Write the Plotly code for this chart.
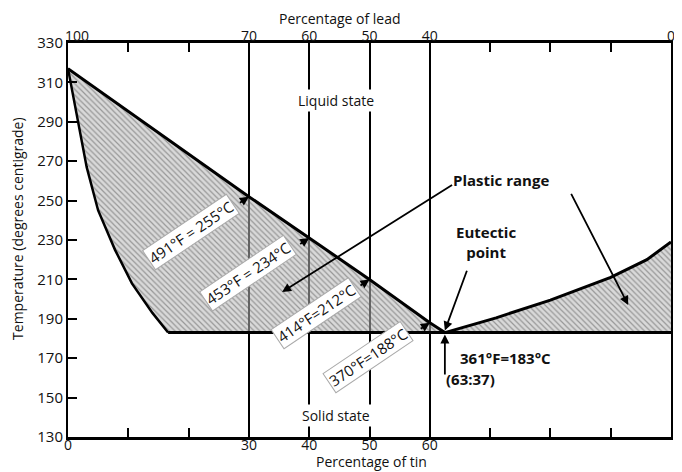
import plotly.graph_objects as go

# values (tin %, temperature in deg C)
liq_left_tin = [0, 30, 40, 50, 60, 62.5]
liq_left_temp = [317, 252, 231, 210, 188, 183]

liq_right_tin = [62.5, 71, 80, 90, 96, 100]
liq_right_temp = [183, 190.5, 199.5, 211, 220, 229]

sol_tin = [0, 1.7, 3.1, 5.0, 7.8, 10.6, 14.0, 16.6]
sol_temp = [317, 289, 267, 245, 225, 208, 193, 183]

eutectic_tin = 62.5
eutectic_temp = 183

tin_ticks = [0, 30, 40, 50, 60, 100]
tin_labels = ['0', '30', '40', '50', '60', '100\u00a0\u00a0\u00a0']
lead_labels = ['\u00a0\u00a0\u00a0\u00a0\u00a0100', '70', '60', '50', '40', '0']
minor_ticks = [10, 20, 70, 80, 90]
temp_ticks = list(range(130, 331, 20))

FONT = 'Open Sans'
hatch = dict(shape='\\', fgcolor='#555', size=4, solidity=0.3, fillmode='overlay')
fill_col = 'rgba(185,185,185,0.55)'

fig = go.Figure()

# left plastic range: liquidus down to eutectic, back along 183 line, up the solidus
left_x = liq_left_tin + [sol_tin[-1]] + sol_tin[::-1]
left_y = liq_left_temp + [eutectic_temp] + sol_temp[::-1]
fig.add_trace(go.Scatter(x=left_x, y=left_y, fill='toself', fillcolor=fill_col,
                         fillpattern=hatch, mode='none', hoverinfo='skip'))

# right plastic range
right_x = liq_right_tin + [100]
right_y = liq_right_temp + [eutectic_temp]
fig.add_trace(go.Scatter(x=right_x, y=right_y, fill='toself', fillcolor=fill_col,
                         fillpattern=hatch, mode='none', hoverinfo='skip'))

line = dict(color='black', width=3)
fig.add_trace(go.Scatter(x=liq_left_tin, y=liq_left_temp, mode='lines', line=line))
fig.add_trace(go.Scatter(x=liq_right_tin, y=liq_right_temp, mode='lines', line=line, xaxis='x2'))
fig.add_trace(go.Scatter(x=sol_tin, y=sol_temp, mode='lines', line=dict(color='black', width=2.5)))
fig.add_trace(go.Scatter(x=[sol_tin[-1], 100], y=[eutectic_temp, eutectic_temp], mode='lines', line=line))

tf = dict(family=FONT, size=14, color='#111')
axis_common = dict(range=[0, 100], tickvals=tin_ticks, ticks='', showgrid=True,
                   gridcolor='black', gridwidth=1.8, zeroline=False, automargin=False,
                   showline=True, linecolor='black', linewidth=3, tickfont=tf,
                   ticklabelstandoff=-7,
                   minor=dict(tickmode='array', tickvals=minor_ticks, ticks='inside',
                              ticklen=9, tickwidth=2, tickcolor='black', showgrid=False))

# page body adds an 8px offset, so the figure is 8px smaller than the window
fig.update_layout(
    width=674, height=464,
    margin=dict(l=60, r=11, t=35, b=35),
    paper_bgcolor='white', plot_bgcolor='white',
    showlegend=False,
    font=dict(family=FONT, color='#111'),
    xaxis=dict(**axis_common, side='bottom', ticktext=tin_labels),
    xaxis2=dict(**axis_common, side='top', overlaying='x', ticktext=lead_labels),
    yaxis=dict(range=[130, 330], tickvals=temp_ticks, ticks='inside', ticklen=9,
               tickwidth=2, tickcolor='black', showgrid=False, zeroline=False, automargin=False,
               showline=True, mirror=True, linecolor='black', linewidth=2,
               tickfont=dict(family=FONT, size=15, color='#111')),
)

anns = []
# axis titles
anns.append(dict(text='Percentage of lead', xref='paper', yref='paper', x=0.451, y=1.063,
                 xanchor='center', yanchor='middle', showarrow=False, font=tf))
anns.append(dict(text='Percentage of tin', xref='paper', yref='paper', x=0.504, y=-0.061,
                 xanchor='center', yanchor='middle', showarrow=False, font=tf))
anns.append(dict(text='Temperature (degrees centigrade)', xref='paper', yref='paper',
                 x=-0.085, y=0.53, xanchor='center', yanchor='middle', textangle=-90,
                 showarrow=False, font=tf))

# region labels
anns.append(dict(text='Liquid state', x=44.4, y=301, showarrow=False, font=tf, bgcolor='white'))
anns.append(dict(text='Solid state', x=44.4, y=141, showarrow=False, font=tf, bgcolor='white'))
bold = dict(family=FONT, size=15, color='#111', weight=700)
anns.append(dict(text='Plastic range', x=71.8, y=260.5, showarrow=False, font=bold))
anns.append(dict(text='Eutectic<br>point', x=69.3, y=229, showarrow=False, font=bold))
anns.append(dict(text='361°F=183°C', x=64.6, y=170, xanchor='left', showarrow=False, font=bold))
anns.append(dict(text='(63:37)', x=62.3, y=159.5, xanchor='left', showarrow=False, font=bold))

arrow = dict(showarrow=True, arrowhead=2, arrowsize=1, arrowwidth=1.8,
             arrowcolor='black', standoff=0, text=' ')
anns.append(dict(x=35.5, y=203.6, ax=173, ay=-109, **arrow))
anns.append(dict(x=92.9, y=197, ax=-60, ay=-117, **arrow))
anns.append(dict(x=eutectic_tin, y=eutectic_temp + 1, ax=25, ay=-68, **arrow))
anns.append(dict(x=eutectic_tin, y=eutectic_temp - 1, ax=0, ay=50, **arrow))

# rotated temperature labels on the liquidus
rot = [('491°F = 255°C', 20.4, 234), ('453°F = 234°C', 29.9, 213.2),
       ('414°F=212°C', 41.2, 193), ('370°F=188°C', 49.8, 170.6)]
for txt, x, y in rot:
    anns.append(dict(text=txt, x=x, y=y, textangle=-34, showarrow=False,
                     font=dict(family=FONT, size=15, color='#111'),
                     bgcolor='white', bordercolor='#aaa', borderwidth=1, borderpad=1))
for x, y in zip(liq_left_tin[1:5], liq_left_temp[1:5]):
    anns.append(dict(x=x, y=y, ax=-12, ay=8, **arrow))

fig.update_layout(annotations=anns)
fig.write_html('out.html')
